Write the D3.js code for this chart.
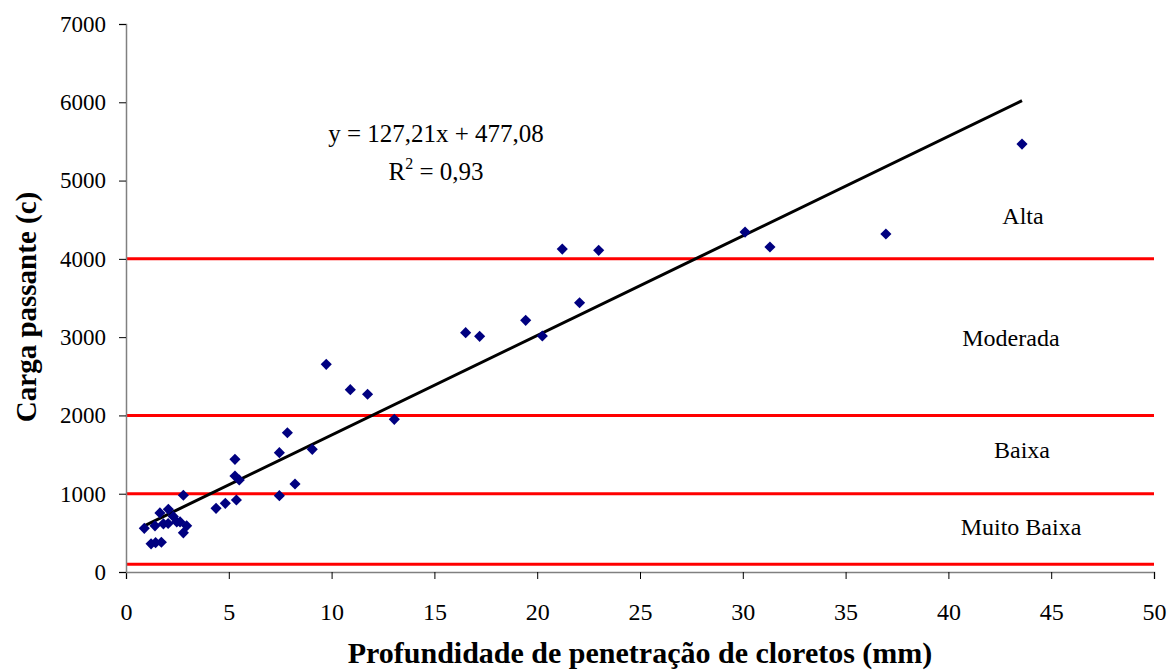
<!DOCTYPE html>
<html>
<head>
<meta charset="utf-8">
<script src="https://cdn.jsdelivr.net/npm/d3@7"></script>
<style>
  html, body { margin: 0; padding: 0; background: #fff; }
  svg { display: block; }
  text { font-family: "Liberation Serif", "Times New Roman", serif; }
</style>
</head>
<body>
<svg id="chart" width="1173" height="671"></svg>
<script>
// ---- data ----
const depthMM = [0.89, 1.22, 1.44, 1.72, 1.41, 1.65, 1.82, 2.05, 2.06, 2.30, 2.47, 2.79, 2.63, 2.95, 2.79,
  4.38, 4.83, 5.37, 5.30, 5.30, 5.51, 7.46, 7.46, 7.85, 8.22, 9.06, 9.74, 10.91, 11.75, 13.05,
  16.52, 17.20, 19.44, 20.25, 21.22, 22.06, 22.99, 30.11, 31.32, 36.96, 43.58];
const chargeC = [558, 360, 375, 380, 590, 755, 615, 620, 800, 710, 640, 980, 640, 590, 500,
  813, 877, 920, 1439, 1226, 1175, 1524, 975, 1779, 1124, 1567, 2653, 2329, 2270, 1950,
  3057, 3010, 3215, 3014, 4125, 3440, 4109, 4342, 4151, 4317, 5466];
const xTicks = [0, 5, 10, 15, 20, 25, 30, 35, 40, 45, 50];
const yTicks = [0, 1000, 2000, 3000, 4000, 5000, 6000, 7000];
const limitLines = [100, 1000, 2000, 4000];
const classLabels = ["Muito Baixa", "Baixa", "Moderada", "Alta"];
const classLabelValues = [575, 1558, 2989, 4547];
const classLabelDepth = [43.53, 43.58, 43.04, 43.63];
const slope = 127.21, intercept = 477.08;
const fitRange = [0.89, 43.58];

// ---- layout ----
const svg = d3.select("#chart");
const x = d3.scaleLinear().domain([0, 50]).range([126, 1154]);
const y = d3.scaleLinear().domain([0, 7000]).range([572, 24]);

// red class lines
svg.append("g").selectAll("line").data(limitLines).join("line")
  .attr("x1", x(0)).attr("x2", x(50))
  .attr("y1", d => y(d)).attr("y2", d => y(d))
  .attr("stroke", "#ff0000").attr("stroke-width", 3);

// axes
const xAxis = svg.append("g").attr("transform", `translate(0,${y(0)})`)
  .call(d3.axisBottom(x).tickValues(xTicks).tickSize(7).tickPadding(33).tickFormat(d3.format("d")));
const yAxis = svg.append("g").attr("transform", `translate(${x(0)},0)`)
  .call(d3.axisLeft(y).tickValues(yTicks).tickSize(7).tickPadding(13).tickFormat(d3.format("d")));
[xAxis, yAxis].forEach(a => {
  a.select(".domain").attr("stroke", "#808080").attr("stroke-width", 1.5);
  a.selectAll(".tick line").attr("stroke", "#000").attr("stroke-width", 1);
  a.selectAll("text").attr("font-family", "Liberation Serif, serif").attr("fill", "#000");
});
xAxis.selectAll("text").attr("font-size", 24).attr("dy", "0.32em");
yAxis.selectAll("text").attr("font-size", 23);

// regression line
svg.append("line")
  .attr("x1", x(fitRange[0])).attr("y1", y(slope * fitRange[0] + intercept))
  .attr("x2", x(fitRange[1])).attr("y2", y(slope * fitRange[1] + intercept))
  .attr("stroke", "#000").attr("stroke-width", 3);

// points
const sym = d3.symbol().type(d3.symbolSquare).size(62);
svg.append("g").selectAll("path").data(depthMM.map((d, i) => [d, chargeC[i]])).join("path")
  .attr("d", sym)
  .attr("transform", d => `translate(${x(d[0])},${y(d[1])}) rotate(45)`)
  .attr("fill", "#000080");

// equation
const eq = svg.append("g").attr("font-size", 25).attr("fill", "#000");
eq.append("text").attr("x", 436).attr("y", 142).attr("text-anchor", "middle").text("y = 127,21x + 477,08");
const r2 = eq.append("text").attr("x", 436).attr("y", 180).attr("text-anchor", "middle");
r2.append("tspan").text("R");
r2.append("tspan").attr("font-size", 16).attr("dy", -11).text("2");
r2.append("tspan").attr("dy", 11).text(" = 0,93");

// class labels
svg.append("g").selectAll("text").data(classLabels).join("text")
  .attr("x", (d, i) => x(classLabelDepth[i])).attr("y", (d, i) => y(classLabelValues[i]))
  .attr("text-anchor", "middle").attr("dy", "0.35em")
  .attr("font-size", 24).attr("fill", "#000")
  .text(d => d);

// axis titles
svg.append("text").attr("x", 640).attr("y", 663).attr("text-anchor", "middle")
  .attr("font-size", 30).attr("font-weight", "bold").text("Profundidade de penetração de cloretos (mm)");
svg.append("text").attr("transform", "translate(36,307) rotate(-90)").attr("text-anchor", "middle")
  .attr("font-size", 29).attr("font-weight", "bold").text("Carga passante (c)");
</script>
</body>
</html>
